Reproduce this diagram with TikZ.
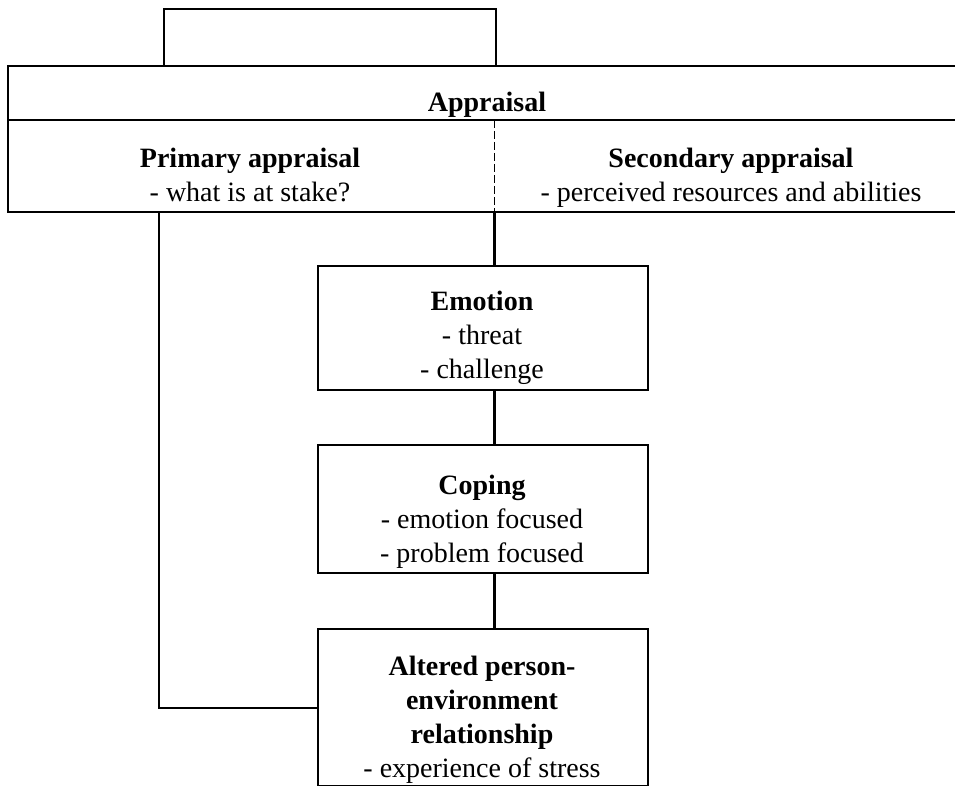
\documentclass[tikz,border=0pt]{standalone}
\usepackage{fontspec}
\setmainfont{Liberation Serif}
\begin{document}
\begin{tikzpicture}[x=1pt,y=-1pt,line width=2.2pt,
  box/.style={draw,rectangle,inner sep=0pt,anchor=north west},
  txt/.style={align=center,inner sep=0pt,anchor=base,font=\fontsize{28}{34}\selectfont},
  dashline/.style={dash pattern=on 8pt off 3pt,line width=1.6pt}]
\useasboundingbox (0,0) rectangle (955,786);
\clip (0,0) rectangle (955,786);
\fill[white] (0,0) rectangle (955,786);
% boxes
\node[box,minimum width=332pt,minimum height=57pt] (top) at (163,8) {};
\node[box,minimum width=961pt,minimum height=146pt] (appr) at (7,65) {};
\node[box,minimum width=330pt,minimum height=124pt] (emo) at (317,265) {};
\node[box,minimum width=330pt,minimum height=128pt] (cop) at (317,444) {};
\node[box,minimum width=330pt,minimum height=157pt] (alt) at (317,628) {};
% divider inside appraisal box
\coordinate (divl) at (7,120);
\coordinate (split) at (494.5,120);
\coordinate (lx) at (159,211);
\draw (divl) -- (divl -| appr.east);
\draw[dashline] (split) -- (split |- appr.south);
% connectors
\draw (appr.south -| split) -- (emo.north -| split);
\draw (emo.south -| split) -- (cop.north -| split);
\draw (cop.south -| split) -- (alt.north -| split);
\draw (appr.south -| lx) |- (alt.west);
% texts (anchor = baseline of last line)
\node[txt] (tappr) at (487,112) {\textbf{Appraisal}};
\node[txt] (tprim) at (250,202) {\textbf{Primary appraisal}\\- what is at stake?};
\node[txt] (tsec) at (731,202) {\textbf{Secondary appraisal}\\- perceived resources and abilities};
\node[txt] (temo) at (482,378) {\textbf{Emotion}\\- threat\\- challenge};
\node[txt] (tcop) at (482,562) {\textbf{Coping}\\- emotion focused\\- problem focused};
\node[txt] (talt) at (482,777) {\textbf{Altered person-}\\\textbf{environment}\\\textbf{relationship}\\- experience of stress};
\end{tikzpicture}
\end{document}
